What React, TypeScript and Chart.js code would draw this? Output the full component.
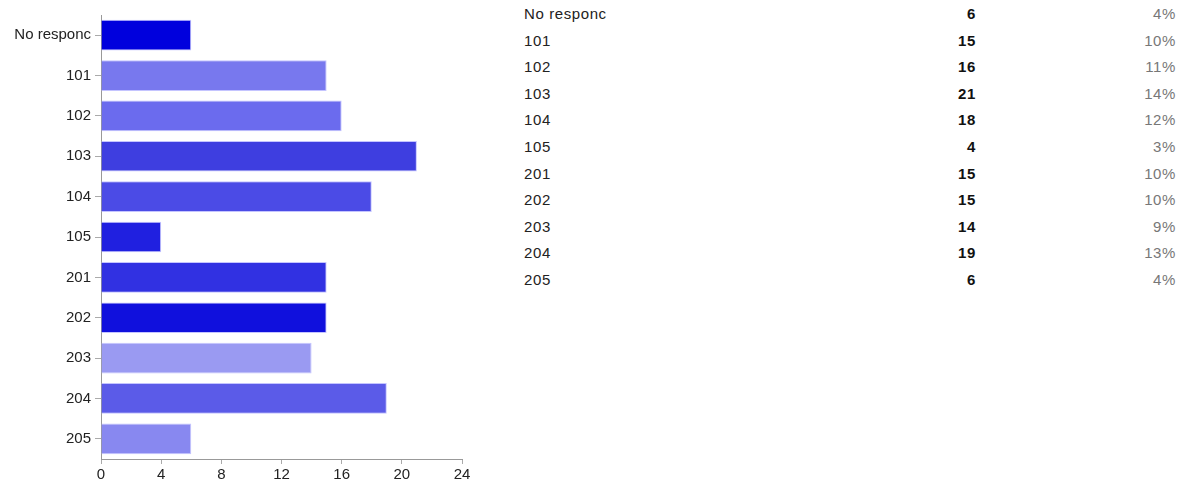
import React, { useEffect, useRef } from "react";
import { Chart, registerables } from "chart.js";

Chart.register(...registerables);

const categories = ["No responc", "101", "102", "103", "104", "105", "201", "202", "203", "204", "205"];
const counts = [6, 15, 16, 21, 18, 4, 15, 15, 14, 19, 6];
const percents = ["4%", "10%", "11%", "14%", "12%", "3%", "10%", "10%", "9%", "13%", "4%"];
const barColors = [
  "#0000dd", "#7878ee", "#6b6bee", "#3e3ee0", "#4b4be6", "#2020e0",
  "#3131e2", "#1010dd", "#9a9af2", "#5b5be8", "#8888f0",
];
const xTicks = [0, 4, 8, 12, 16, 20, 24];

const FONT = "'Liberation Sans', Arial, sans-serif";

export default function App() {
  const ref = useRef<HTMLCanvasElement | null>(null);

  useEffect(() => {
    if (!ref.current) return;
    const chart = new Chart(ref.current, {
      type: "bar",
      data: {
        labels: categories,
        datasets: [
          {
            data: counts,
            backgroundColor: barColors,
            borderColor: "rgba(190,190,255,0.9)",
            borderWidth: 1,
            categoryPercentage: 1,
            barPercentage: 0.76,
          },
        ],
      },
      options: {
        indexAxis: "y",
        animation: false,
        responsive: false,
        maintainAspectRatio: false,
        layout: { padding: { top: 15, right: 18, left: 0, bottom: 0 } },
        plugins: { legend: { display: false }, tooltip: { enabled: false }, title: { display: false } },
        scales: {
          x: {
            min: 0,
            max: 24,
            afterBuildTicks: (scale: any) => {
              scale.ticks = xTicks.map((v) => ({ value: v }));
            },
            afterFit: (scale: any) => {
              scale.height = 23;
            },
            grid: { drawOnChartArea: false, drawTicks: true, tickLength: 5, color: "#aaaaaa" },
            border: { color: "#999999" },
            ticks: { font: { family: FONT, size: 15 }, color: "#222222", padding: 2, maxRotation: 0 },
          },
          y: {
            afterFit: (scale: any) => {
              scale.width = 101;
            },
            grid: { drawOnChartArea: false, drawTicks: true, tickLength: 6, color: "#aaaaaa", offset: false },
            border: { color: "#999999" },
            ticks: { font: { family: FONT, size: 15 }, color: "#222222", padding: 4 },
          },
        },
      },
    });
    return () => chart.destroy();
  }, []);

  return (
    <div style={{ position: "absolute", left: 0, top: 0, width: 1184, height: 482, background: "#fff", fontFamily: FONT }}>
      <canvas ref={ref} width={480} height={482} style={{ position: "absolute", left: 0, top: 0, width: 480, height: 482 }} />
      {categories.map((c, i) => (
        <div
          key={c}
          style={{
            position: "absolute",
            top: 14 + i * 26.6 - 9,
            left: 524,
            width: 652,
            height: 18,
            lineHeight: "18px",
            fontSize: 15,
            letterSpacing: "0.6px",
            color: "#222",
          }}
        >
          <span style={{ position: "absolute", left: 0 }}>{c}</span>
          <span style={{ position: "absolute", right: 652 - 452, fontWeight: "bold", color: "#111" }}>{counts[i]}</span>
          <span style={{ position: "absolute", right: 0, color: "#777" }}>{percents[i]}</span>
        </div>
      ))}
    </div>
  );
}
